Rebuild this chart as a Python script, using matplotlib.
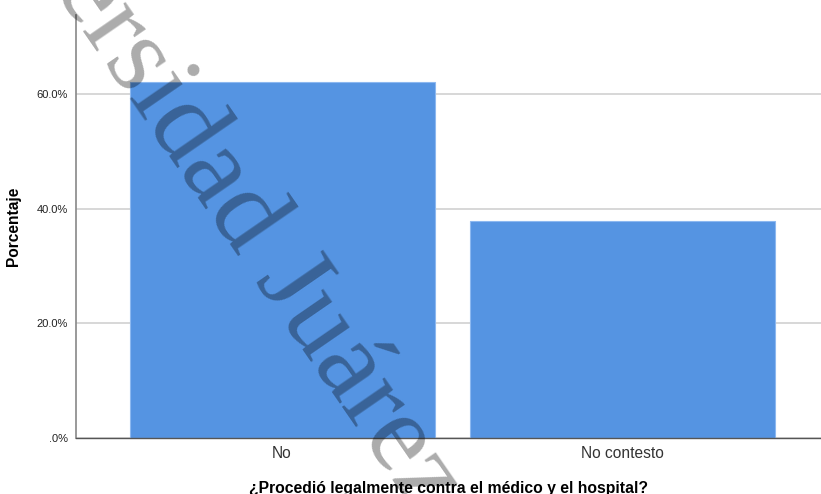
import matplotlib
matplotlib.use("Agg")
import matplotlib.pyplot as plt

categories = ["No", "No contesto"]
percentages = [62.1, 37.9]
yticks = [0, 20, 40, 60]
ytick_labels = [".0%", "20.0%", "40.0%", "60.0%"]
xlabel = "¿Procedió legalmente contra el médico y el hospital?"
ylabel = "Porcentaje"
watermark = "Universidad Juárez"

W, H = 821, 494
fig = plt.figure(figsize=(W / 100, H / 100), dpi=100)
ax = fig.add_axes([76 / W, (H - 438) / H, (W - 76) / W, (438 - 15) / H])

x = list(range(len(categories)))
ax.bar(x, percentages, width=0.897, color="#5594E2", edgecolor="#8CB8F0",
       linewidth=0.8, zorder=2)

ax.set_xlim(-0.606, 0.585 + 1)
ax.set_ylim(0, 73.8)
ax.set_yticks(yticks)
ax.set_yticklabels(ytick_labels)
ax.set_xticks(x)
ax.set_xticklabels(categories)
ax.yaxis.grid(True, color="#D4D4D4", linewidth=1.3, zorder=0)
ax.set_axisbelow(True)
ax.tick_params(axis="both", length=0)
ax.tick_params(axis="y", labelsize=8, labelcolor="#222222", pad=6)
ax.tick_params(axis="x", labelsize=11.2, labelcolor="#333333", pad=6)
for lab in ax.get_yticklabels() + ax.get_xticklabels():
    lab.set_family("Liberation Sans")

for s in ["top", "right"]:
    ax.spines[s].set_visible(False)
ax.spines["left"].set_color("#888888")
ax.spines["left"].set_linewidth(1.2)
ax.spines["bottom"].set_color("#555555")
ax.spines["bottom"].set_linewidth(1.0)

ax.set_xlabel(xlabel, fontsize=11.3, fontweight="bold", family="Liberation Sans",
              labelpad=14)
ax.set_ylabel(ylabel, fontsize=11.2, fontweight="bold", family="Liberation Sans",
              labelpad=11)

fig.text(193 / W, (H - 144) / H, watermark, family="Liberation Serif",
         fontsize=81.5, color="black", alpha=0.33, rotation=-55.4,
         rotation_mode="anchor", ha="center", va="center", zorder=10)

fig.savefig("out.png", dpi=100)
